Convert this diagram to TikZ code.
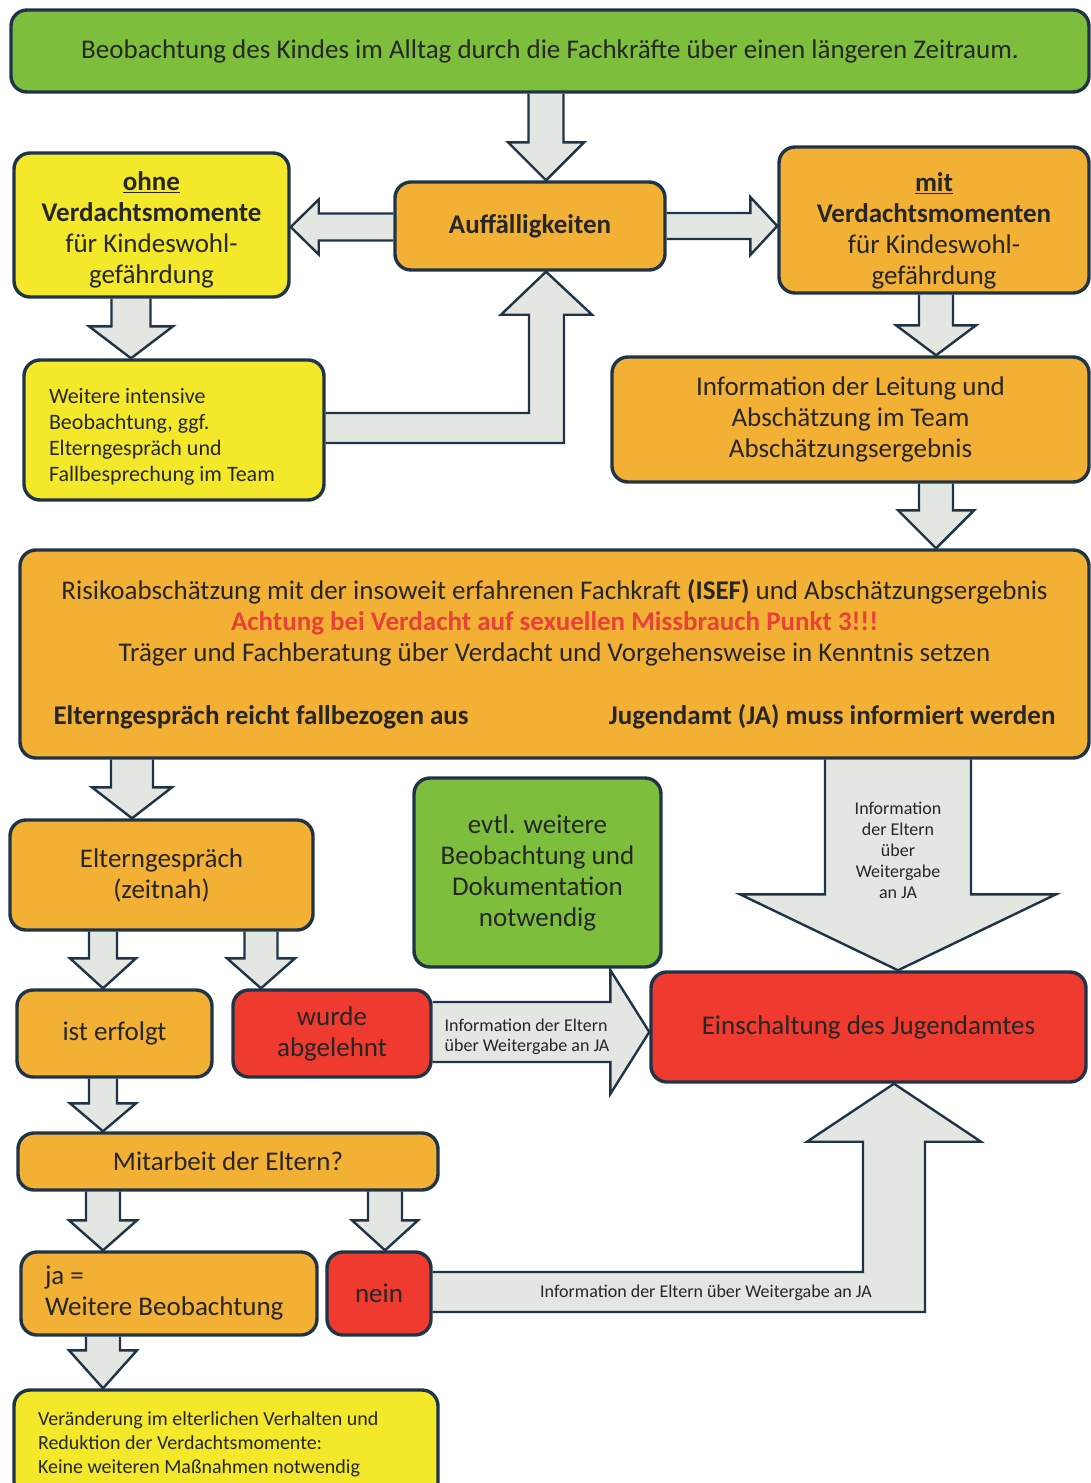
\documentclass[tikz,border=0pt]{standalone}
\usepackage{fontspec}
\setmainfont{Carlito}
\usetikzlibrary{calc}
\pgfdeclarelayer{background}
\pgfsetlayers{background,main}

\definecolor{boxline}{HTML}{1F3447}
\definecolor{boxgreen}{HTML}{7DBF3C}
\definecolor{boxyellow}{HTML}{F3E92A}
\definecolor{boxorange}{HTML}{F2B034}
\definecolor{boxred}{HTML}{EE3A2F}
\definecolor{arrowgray}{HTML}{E4E6E1}
\definecolor{txt}{HTML}{262626}
\definecolor{alert}{HTML}{E8413A}

% block arrow down: x, from, to, shaft half width, head half width, head length
\newcommand\downblock[6]{%
  \draw[blockarrow] let \p1=(#2.south), \p2=(#3.north) in
    (#1-#4,\y1) -- (#1-#4,{\y2+#6pt}) -- (#1-#5,{\y2+#6pt}) -- (#1,\y2)
    -- (#1+#5,{\y2+#6pt}) -- (#1+#4,{\y2+#6pt}) -- (#1+#4,\y1);}
% block arrow right / left: y, from, to, shaft half width, head half width, head length
\newcommand\rightblock[6]{%
  \draw[blockarrow] let \p1=(#2.east), \p2=(#3.west) in
    (\x1,#1-#4) -- ({\x2-#6pt},#1-#4) -- ({\x2-#6pt},#1-#5) -- (\x2,#1)
    -- ({\x2-#6pt},#1+#5) -- ({\x2-#6pt},#1+#4) -- (\x1,#1+#4);}
\newcommand\leftblock[6]{%
  \draw[blockarrow] let \p1=(#2.west), \p2=(#3.east) in
    (\x1,#1-#4) -- ({\x2+#6pt},#1-#4) -- ({\x2+#6pt},#1-#5) -- (\x2,#1)
    -- ({\x2+#6pt},#1+#5) -- ({\x2+#6pt},#1+#4) -- (\x1,#1+#4);}

\begin{document}
\begin{tikzpicture}[x=1pt, y=-1pt]
      \tikzset{
  box/.style={
    draw=boxline,
    line width=3.4pt,
    rounded corners=16pt,
    text=txt,
    align=center,
    inner sep=4pt,
    font=\fontsize{27}{31}\selectfont
  },
  greenbox/.style={box, fill=boxgreen},
  yellowbox/.style={box, fill=boxyellow},
  orangebox/.style={box, fill=boxorange},
  redbox/.style={box, fill=boxred},
  blockarrow/.style={
    draw=boxline,
    fill=arrowgray,
    line width=2.4pt,
    line join=miter
  },
  arrowtext/.style={
    text=txt,
    align=center,
    font=\fontsize{18}{21}\selectfont
  }
}

\useasboundingbox (0,0) rectangle (1091,1483);

% first row
\node[greenbox, minimum width=1078pt, minimum height=82pt] (beob) at (550,51)
  {Beobachtung des Kindes im Alltag durch die Fachkräfte über einen längeren Zeitraum.};
\node[yellowbox, minimum width=275pt, minimum height=144pt] (ohne) at (151.5,225)
  {\rule{0pt}{28pt}\textbf{\underline{ohne}}\\\textbf{Verdachtsmomente}\\für Kindeswohl-\\gefährdung};
\node[orangebox, minimum width=270pt, minimum height=88pt] (auff) at (530,226)
  {\textbf{Auffälligkeiten}};
\node[orangebox, minimum width=310pt, minimum height=146pt] (mit) at (934,220)
  {\rule{0pt}{40pt}\textbf{\underline{mit}}\\\textbf{Verdachtsmomenten}\\für Kindeswohl-\\gefährdung};
\node[yellowbox, align=flush left, text width=250pt, minimum width=300pt, minimum height=140pt,
  font=\fontsize{22}{26}\selectfont] (weitere) at (174,430)
  {\rule{0pt}{29pt}Weitere intensive\\Beobachtung, ggf.\\Elterngespräch und\\Fallbesprechung im Team};
\node[orangebox, minimum width=477pt, minimum height=125pt] (info) at (850.5,419.5)
  {Information der Leitung und\\Abschätzung im Team\\Abschätzungsergebnis};

% risk assessment
\node[orangebox, minimum width=1069pt, minimum height=208pt] (risiko) at (554.5,654)
  {Risikoabschätzung mit der insoweit erfahrenen Fachkraft \textbf{(ISEF)} und Abschätzungsergebnis\\
   \textcolor{alert}{\textbf{Achtung bei Verdacht auf sexuellen Missbrauch Punkt 3!!!}}\\
   Träger und Fachberatung über Verdacht und Vorgehensweise in Kenntnis setzen\\[32pt]
   \makebox[1002pt]{\textbf{Elterngespräch reicht fallbezogen aus}\hfill\textbf{Jugendamt (JA) muss informiert werden}}};

% lower part
\node[orangebox, minimum width=303pt, minimum height=110pt] (eltern) at (161.5,875)
  {Elterngespräch\\(zeitnah)};
\node[greenbox, minimum width=247pt, minimum height=189pt] (evtl) at (537.5,872.5)
  {evtl. weitere\\Beobachtung und\\Dokumentation\\notwendig};
\node[orangebox, minimum width=195pt, minimum height=87pt] (erfolgt) at (114.5,1033.5) {ist erfolgt};
\node[redbox, minimum width=198pt, minimum height=87pt] (abgelehnt) at (332,1033.5) {wurde\\abgelehnt};
\node[redbox, minimum width=435pt, minimum height=110pt] (jugendamt) at (868.5,1027)
  {Einschaltung des Jugendamtes};
\node[orangebox, minimum width=420pt, minimum height=57pt] (mitarbeit) at (228,1161.5)
  {Mitarbeit der Eltern?};
\node[orangebox, align=flush left, text width=248pt, minimum width=296pt, minimum height=83pt] (ja) at (169,1293.5)
  {ja =\\Weitere Beobachtung};
\node[redbox, minimum width=104pt, minimum height=83pt] (nein) at (379,1293.5) {nein};
\node[yellowbox, align=flush left, text width=376pt, minimum width=424pt, minimum height=108pt,
  font=\fontsize{20}{24}\selectfont] (veraend) at (226,1444)
  {Veränderung im elterlichen Verhalten und\\Reduktion der Verdachtsmomente:\\Keine weiteren Maßnahmen notwendig};

\begin{pgfonlayer}{background}
\foreach \xx/\src/\dst/\sw/\hw/\hlen in {546/beob/auff/17.5/38/38, 131/ohne/weitere/19.5/42/32,
    936/mit/info/17/40/30, 936/info/risiko/17/38/38, 132/risiko/eltern/21/40/31,
    898/risiko/jugendamt/73/158/76, 103/eltern/erfolgt/14/33/30, 261/eltern/abgelehnt/16.5/34/30,
    103/erfolgt/mitarbeit/14/33/28, 103/mitarbeit/ja/17/34/30, 385/mitarbeit/nein/17/33/30,
    103/ja/veraend/17/34/38}
  \downblock{\xx}{\src}{\dst}{\sw}{\hw}{\hlen};

\leftblock{227}{auff}{ohne}{13.5}{27.5}{28}
\rightblock{226}{auff}{mit}{13}{29}{27}
\rightblock{1032}{abgelehnt}{jugendamt}{30}{62}{39}

% back up to Auffaelligkeiten
\draw[blockarrow] let \p1=(weitere.east), \p2=(auff.south) in
  (\x1,413) -- (529,413) -- (529,{\y2-43pt}) -- (501,{\y2-43pt}) -- (546,\y2)
  -- (592,{\y2-43pt}) -- (564,{\y2-43pt}) -- (564,443) -- (\x1,443);
% nein to Jugendamt
\draw[blockarrow] let \p1=(nein.east), \p2=(jugendamt.south) in
  (\x1,1272) -- (863,1272) -- (863,{\y2-58pt}) -- (807,{\y2-58pt}) -- (894,\y2)
  -- (981,{\y2-58pt}) -- (925,{\y2-58pt}) -- (925,1312) -- (\x1,1312);
\end{pgfonlayer}

\node[arrowtext] (infobig) at (898,850) {Information\\der Eltern\\über\\Weitergabe\\an JA};
\node[arrowtext, align=left, font=\fontsize{18}{20}\selectfont] (infomid) at (527,1037)
  {Information der Eltern\\über Weitergabe an JA};
\node[arrowtext] (infolow) at (706,1293) {Information der Eltern über Weitergabe an JA};
      \end{tikzpicture}
\end{document}
